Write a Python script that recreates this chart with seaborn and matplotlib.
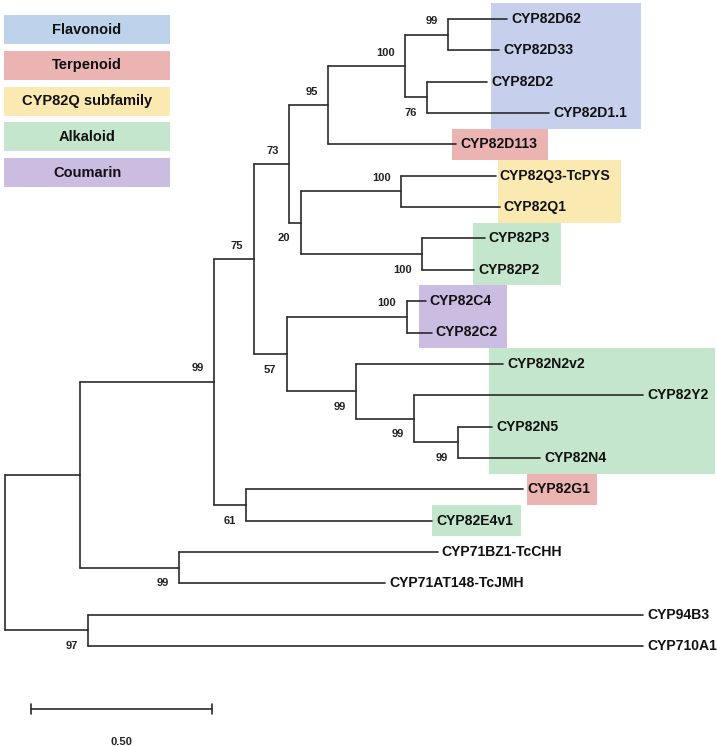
import numpy as np
import pandas as pd
import seaborn as sns
import matplotlib.pyplot as plt
from matplotlib.patches import Rectangle

# tips, top to bottom, with branch length to their parent node
tip_names = ["CYP82D62", "CYP82D33", "CYP82D2", "CYP82D1.1", "CYP82D113",
             "CYP82Q3-TcPYS", "CYP82Q1", "CYP82P3", "CYP82P2", "CYP82C4",
             "CYP82C2", "CYP82N2v2", "CYP82Y2", "CYP82N5", "CYP82N4",
             "CYP82G1", "CYP82E4v1", "CYP71BZ1-TcCHH", "CYP71AT148-TcJMH",
             "CYP94B3", "CYP710A1"]
tip_branch = [0.163, 0.141, 0.166, 0.337, 0.354, 0.262, 0.273, 0.174, 0.144,
              0.052, 0.069, 0.406, 0.633, 0.094, 0.227, 0.765, 0.514, 0.715,
              0.569, 1.533, 1.533]

# internal nodes: children, branch length to parent, bootstrap
node_names = ["M", "N", "L", "E", "Q", "P", "F", "D", "CC", "K", "J", "I",
              "H", "C", "GE", "B", "Y71", "A", "Z", "root"]
node_children = [["CYP82D62", "CYP82D33"], ["CYP82D2", "CYP82D1.1"], ["M", "N"],
                 ["L", "CYP82D113"], ["CYP82Q3-TcPYS", "CYP82Q1"],
                 ["CYP82P3", "CYP82P2"], ["Q", "P"], ["E", "F"],
                 ["CYP82C4", "CYP82C2"], ["CYP82N5", "CYP82N4"],
                 ["CYP82Y2", "K"], ["CYP82N2v2", "J"], ["CC", "I"], ["D", "H"],
                 ["CYP82G1", "CYP82E4v1"], ["C", "GE"],
                 ["CYP71BZ1-TcCHH", "CYP71AT148-TcJMH"], ["B", "Y71"],
                 ["CYP94B3", "CYP710A1"], ["A", "Z"]]
node_branch = [0.119, 0.061, 0.213, 0.108, 0.276, 0.334, 0.033, 0.097, 0.331,
               0.122, 0.160, 0.191, 0.091, 0.110, 0.088, 0.370, 0.273, 0.209,
               0.231, 0.0]
node_boot = [99, 76, 100, 95, 100, 100, 20, 73, 100, 99, 99, 99, 57, 75, 61,
             99, 99, None, 97, None]

groups = ["Flavonoid", "Terpenoid", "CYP82Q subfamily", "Alkaloid", "Coumarin"]
group_colors = ["#bdd3ec", "#ecb3b3", "#fbe9b2", "#c3e6cd", "#cbbde2"]

# highlighted boxes: group, first tip row, last tip row, left/right in px
boxes = [("Flavonoid", 0, 3, 491, 641), ("Terpenoid", 4, 4, 452, 548),
         ("CYP82Q subfamily", 5, 6, 498, 621), ("Alkaloid", 7, 8, 473, 561),
         ("Coumarin", 9, 10, 419, 507), ("Alkaloid", 11, 14, 489, 715),
         ("Terpenoid", 15, 15, 527, 597), ("Alkaloid", 16, 16, 432, 521)]

# ---- layout of the tree ----
children = dict(zip(node_names, node_children))
blen = dict(zip(tip_names, tip_branch))
blen.update(zip(node_names, node_branch))
boot = dict(zip(node_names, node_boot))
ypos = {n: i for i, n in enumerate(tip_names)}
xpos = {}

def place(n, x0):
    xpos[n] = x0 + blen[n]
    if n in children:
        for c in children[n]:
            place(c, xpos[n])
        ypos[n] = np.mean([ypos[c] for c in children[n]])

place("root", 0.0)

rows = []
seg = 0
for n in node_names:
    cs = children[n]
    rows += [(xpos[n], ypos[cs[0]], seg), (xpos[n], ypos[cs[-1]], seg)]
    seg += 1
    for c in cs:
        rows += [(xpos[n], ypos[c], seg), (xpos[c], ypos[c], seg)]
        seg += 1
df = pd.DataFrame(rows, columns=["x", "y", "seg"])

# ---- drawing ----
sns.set_theme(style="white")
plt.rcParams['font.family'] = ['Liberation Sans', 'DejaVu Sans']

fig = plt.figure(figsize=(7.17, 7.47), dpi=100)
ax = fig.add_axes([0, 0, 1, 1])
PXU = 362.0            # pixels per branch-length unit
ROW = 31.35            # pixels per tip row
ax.set_xlim(-4.5 / PXU, (717 - 4.5) / PXU)
ax.set_ylim((747 - 19) / ROW, -19 / ROW)
ax.axis("off")

def px2x(p):
    return (p - 4.5) / PXU

gcol = dict(zip(groups, group_colors))
box_colors = dict(gcol)
box_colors["Flavonoid"] = "#c6cfeb"
for g, r0, r1, x0, x1 in boxes:
    ax.add_patch(Rectangle((px2x(x0), r0 - 0.5), px2x(x1) - px2x(x0), r1 - r0 + 1,
                           facecolor=box_colors[g], edgecolor="none", zorder=0))

sns.lineplot(data=df, x="x", y="y", units="seg", estimator=None, sort=False,
             color="#2b2b2b", linewidth=1.2, ax=ax, zorder=2)
ax.set_xlabel("")
ax.set_ylabel("")

for t in tip_names:
    ax.text(xpos[t] + 4 / PXU, ypos[t], t, ha="left", va="center",
            fontsize=10.1, fontweight="bold", color="#111111", zorder=3)

# bootstrap values sit left of each node, above top children, below bottom ones
for n in node_names:
    for i, c in enumerate(children[n]):
        if c in boot and boot[c] is not None:
            dy = -0.43 if i == 0 else 0.5
            ax.text(xpos[c] - 10.5 / PXU, ypos[c] + dy,
                    str(boot[c]), ha="right", va="center", fontsize=8,
                    fontweight="bold", color="#222222", zorder=3)

# legend
for i, (g, col) in enumerate(zip(groups, group_colors)):
    top = 15 + i * 35.8
    ax.add_patch(Rectangle((4 / 717, 1 - (top + 29) / 747), 166 / 717, 29 / 747,
                           transform=ax.transAxes, facecolor=col,
                           edgecolor="none", zorder=1))
    ax.text(87 / 717, 1 - (top + 14.5) / 747, g, transform=ax.transAxes,
            ha="center", va="center", fontsize=10.5, fontweight="bold",
            color="#111111")

# scale bar
sb_x0 = px2x(31)
sb_y = (709 - 19) / ROW
ax.plot([sb_x0, sb_x0 + 0.5], [sb_y, sb_y], color="#2b2b2b", lw=1.2)
for xx in (sb_x0, sb_x0 + 0.5):
    ax.plot([xx, xx], [sb_y - 0.17, sb_y + 0.17], color="#2b2b2b", lw=1.2)
ax.text(sb_x0 + 0.25, (742 - 19) / ROW, "0.50", ha="center", va="center",
        fontsize=8, fontweight="bold", color="#222222")

fig.savefig("out.png", dpi=100)
